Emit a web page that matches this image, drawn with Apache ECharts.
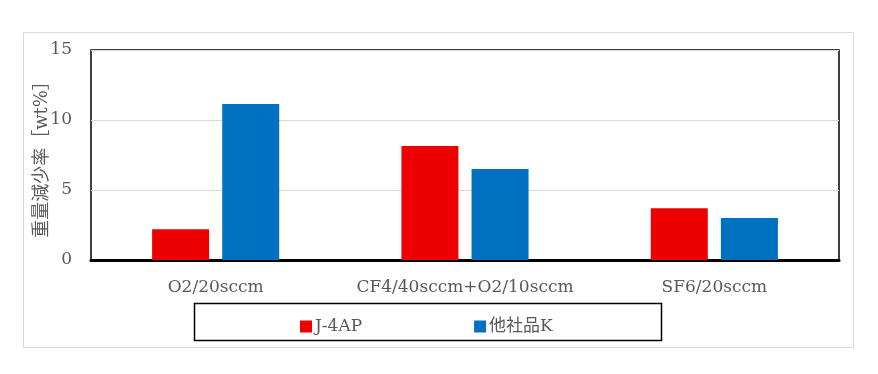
<!DOCTYPE html>
<html><head><meta charset="utf-8">
<script src="https://cdn.jsdelivr.net/npm/echarts@6/dist/echarts.min.js"></script>
<style>html,body{margin:0;padding:0;background:#fff}#c{width:878px;height:374px}</style>
</head><body><div id="c"></div>
<script>
const categories = ['O2/20sccm', 'CF4/40sccm+O2/10sccm', 'SF6/20sccm'];
const seriesNames = ['J-4AP', '他社品K'];
const j4apValues = [2.2, 8.15, 3.7];
const otherKValues = [11.15, 6.5, 3.0];
const seriesColors = ['#EE0000', '#0070C0'];
const FONT = '"DejaVu Serif","Noto Sans CJK JP",serif';
const chart = echarts.init(document.getElementById('c'), null, {renderer: 'canvas'});
chart.setOption({
  animation: false,
  textStyle: {fontFamily: FONT},
  graphic: [
    {type: 'rect', shape: {x: 23.5, y: 32.5, width: 830, height: 315}, style: {fill: 'none', stroke: '#d9d9d9', lineWidth: 1}, z: -1},
    {type: 'rect', shape: {x: 194.5, y: 303.5, width: 467, height: 37}, style: {fill: 'none', stroke: '#000', lineWidth: 1.5}}
  ],
  legend: {
    left: 295, top: 313, itemWidth: 12, itemHeight: 12, itemGap: 112,
    icon: 'rect',
    textStyle: {fontFamily: FONT, fontSize: 17, color: '#595959', padding: [0, 0, 0, -2]},
    data: seriesNames
  },
  grid: {left: 91, right: 39, top: 50, bottom: 114, show: true, borderColor: '#000', borderWidth: 1.5, backgroundColor: 'transparent'},
  xAxis: {
    type: 'category', data: categories,
    axisLine: {lineStyle: {color: '#000', width: 3}},
    axisTick: {show: false},
    axisLabel: {color: '#595959', fontSize: 17, margin: 19, interval: 0, fontFamily: FONT}
  },
  yAxis: {
    type: 'value', min: 0, max: 15, interval: 5,
    name: '重量減少率［wt%］', nameLocation: 'middle', nameGap: 40, nameRotate: 90,
    nameMoveOverlap: false,
    nameTextStyle: {color: '#595959', fontSize: 18, fontFamily: FONT},
    axisLine: {show: false}, axisTick: {show: false},
    axisLabel: {color: '#595959', fontSize: 17, margin: 19, fontFamily: FONT},
    splitLine: {lineStyle: {color: '#d9d9d9', width: 1}}
  },
  series: [
    {name: seriesNames[0], type: 'bar', data: j4apValues, barWidth: 57, barGap: '23%', itemStyle: {color: seriesColors[0]}},
    {name: seriesNames[1], type: 'bar', data: otherKValues, barWidth: 57, itemStyle: {color: seriesColors[1]}}
  ]
});
</script></body></html>
